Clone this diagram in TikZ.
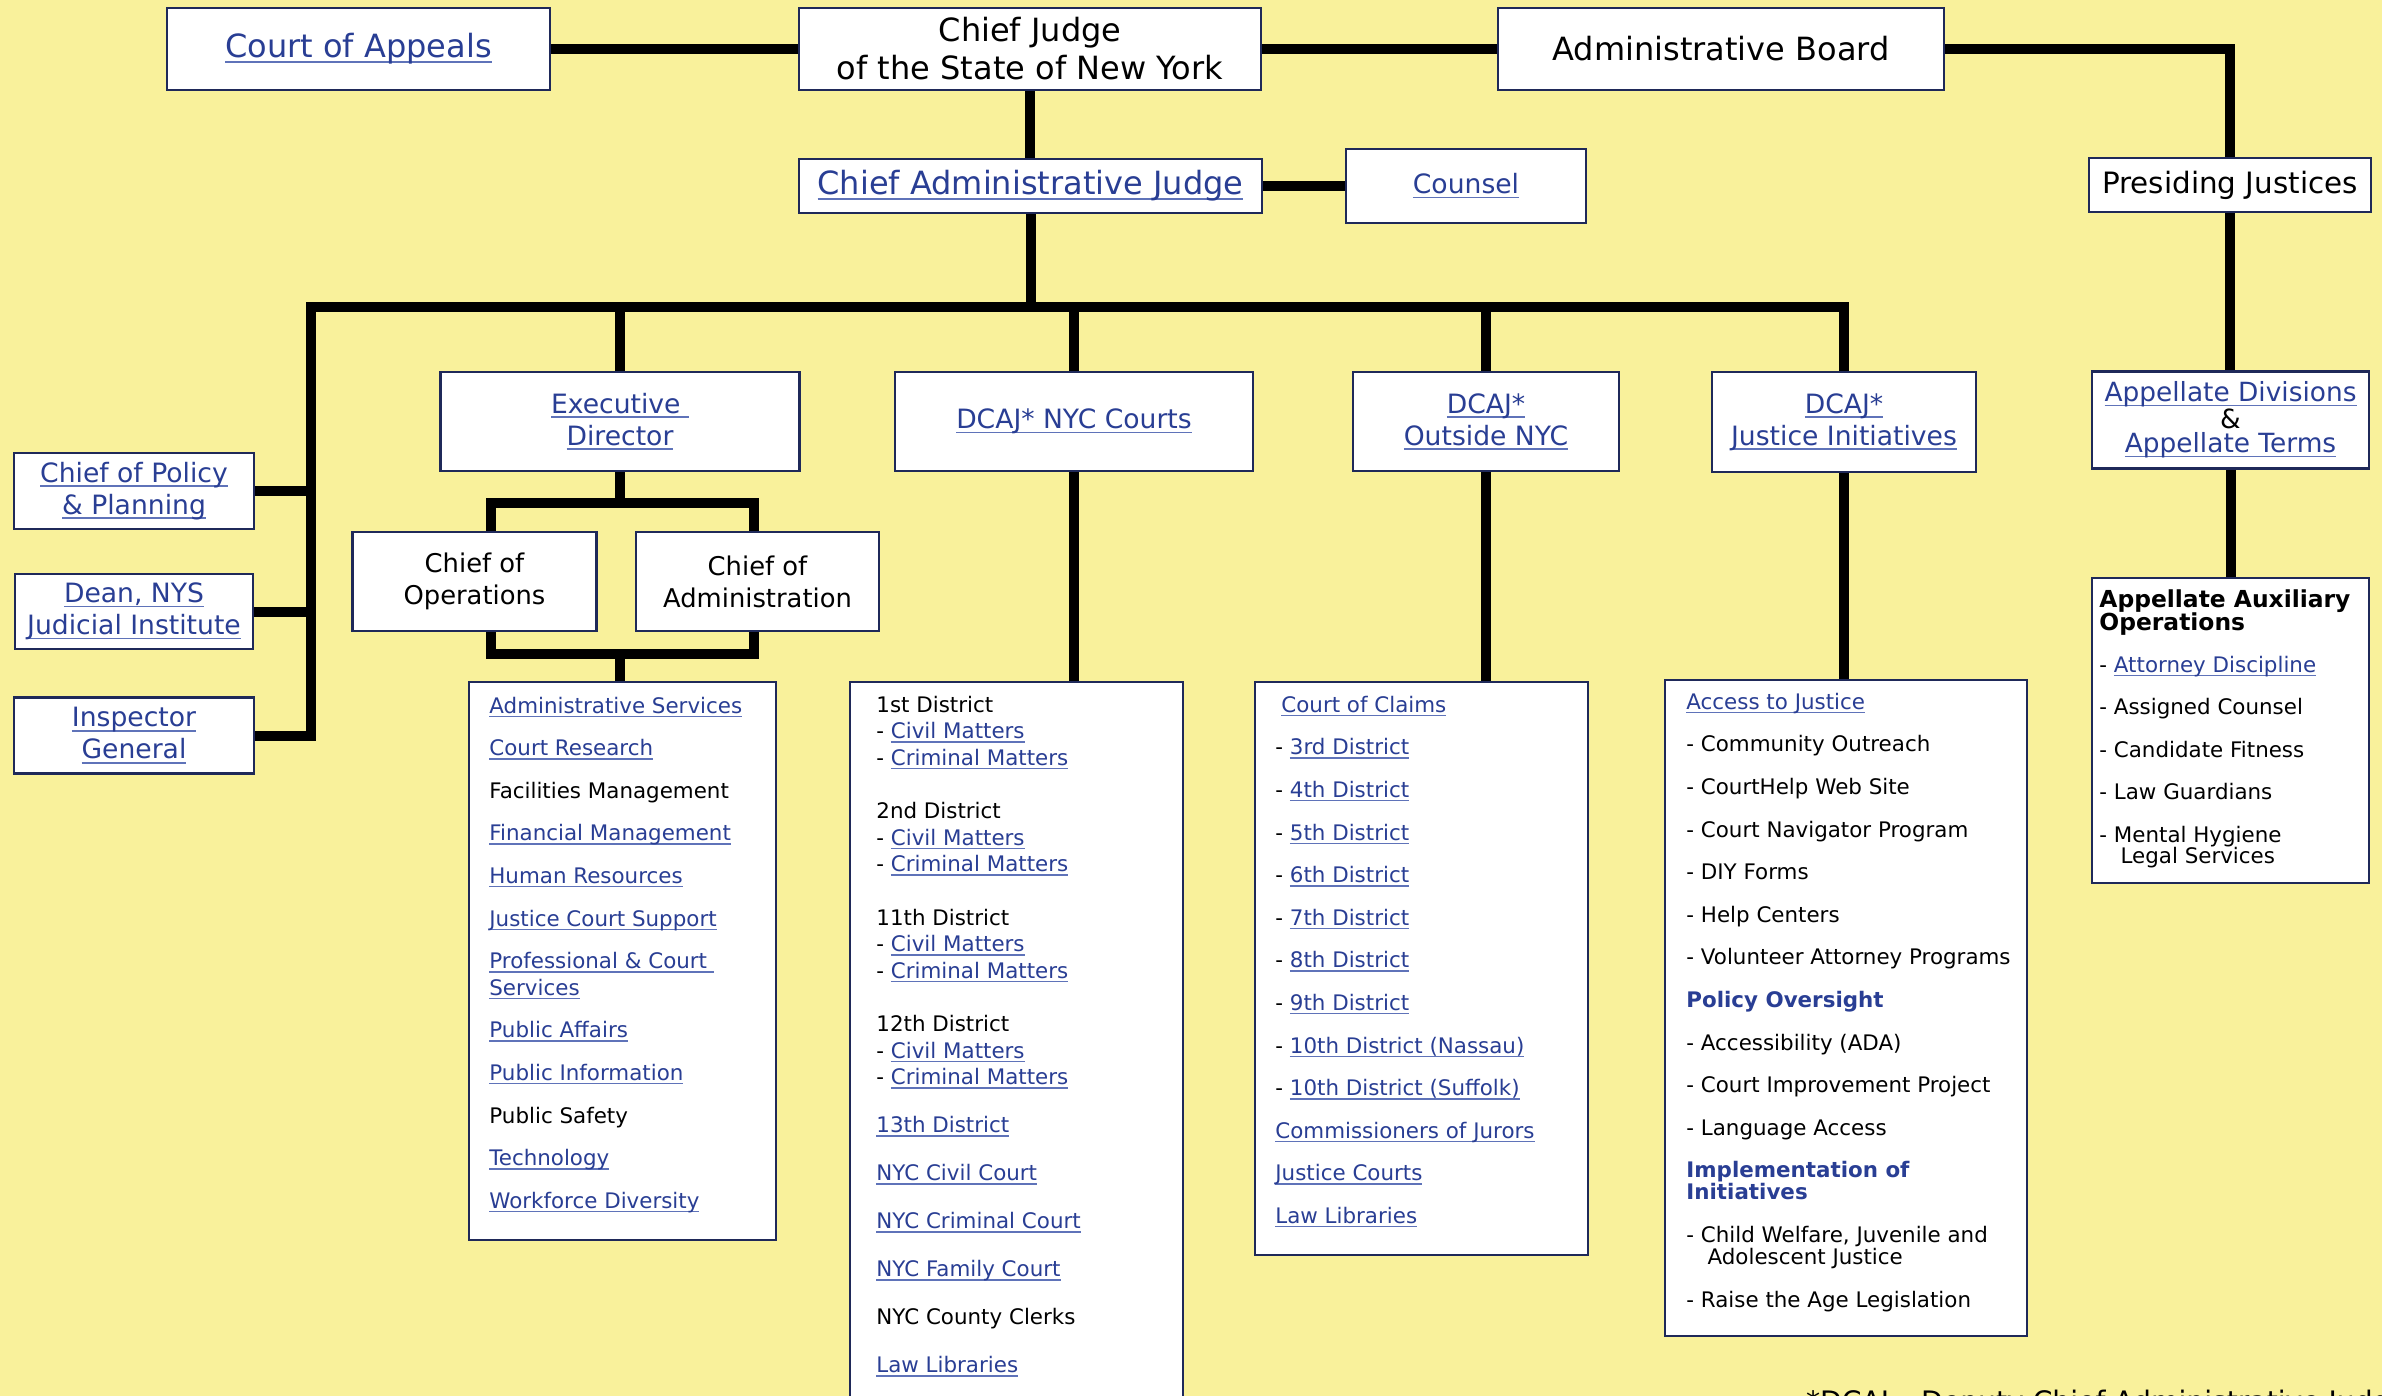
\documentclass[tikz,border=0pt]{standalone}
\usepackage{fontspec}
\setmainfont{DejaVu Sans}
\usetikzlibrary{positioning}
\usetikzlibrary{calc}

\definecolor{bgyellow}{RGB}{249,241,155}
\definecolor{boxnavy}{RGB}{31,41,89}
\definecolor{linkblue}{RGB}{41,62,148}
\definecolor{ulblue}{RGB}{95,115,185}

\newcommand\topfont{\fontsize{16}{19}\selectfont}
\newcommand\midfont{\fontsize{13.3}{16}\selectfont}
\newcommand\listfont{\fontsize{10.7}{13.3}\selectfont}
\newcommand\notefont{\fontsize{14.1}{17}\selectfont}
\newsavebox\lnkbox
\newcommand\lnk[1]{\sbox\lnkbox{\textcolor{linkblue}{#1}}%
  \rlap{\textcolor{ulblue}{\rule[-0.32ex]{\wd\lnkbox}{0.12ex}}}\usebox\lnkbox}
\newcommand\head[1]{\textcolor{linkblue}{\bfseries #1}}

\tikzset{box/.style={draw=boxnavy, line width=1.25pt, fill=white, inner sep=0pt, align=center}}
\tikzset{sz/.style 2 args={minimum width=#1*0.5pt, minimum height=#2*0.5pt}}
\tikzset{wire/.style={line width=5pt}}
\tikzset{items/.style={anchor=north west, inner sep=0pt, align=left, font={\listfont\lineskiplimit=-20pt}}}

\begin{document}
\begin{tikzpicture}[x=0.5pt, y=-0.5pt]
\clip (0,0) rectangle (2382,1396);
\fill[bgyellow] (0,0) rectangle (2382,1396);

% top of the chart
\node[box, sz={383}{82}, font=\topfont] (coa) at (358.5,49) {\lnk{Court of Appeals}};
\node[box, sz={462}{82}, font=\topfont] (cj) at (1030,49) {Chief Judge\\of the State of New York};
\node[box, sz={446}{82}, font=\topfont] (board) at (1721,49) {Administrative Board};
\node[box, sz={463}{54}, font=\topfont] (caj) at (1030.5,186) {\lnk{Chief Administrative Judge}};
\node[box, sz={240}{74}, font=\midfont] (counsel) at (1466,186) {\lnk{Counsel}};
\node[box, sz={282}{54}, font=\fontsize{14.7}{17}\selectfont] (pj) at (2230,185) {Presiding Justices};

% left column
\node[box, sz={240}{76}, font=\midfont] (policy) at (134,491) {\lnk{Chief of Policy}\\\lnk{\& Planning}};
\node[box, sz={238}{75}, font=\midfont] (dean) at (134,611.5) {\lnk{Dean, NYS}\\\lnk{Judicial Institute}};
\node[box, sz={240}{76}, font=\midfont] (ig) at (134,735.5) {\lnk{Inspector}\\\lnk{General}};

% deputies
\node[box, sz={359}{99}, font=\midfont] (ed) at (620,421.5) {\lnk{Executive\ }\\\lnk{Director}};
\node[box, sz={358}{99}, font=\midfont] (dnyc) at (1074,421.5) {\lnk{DCAJ* NYC Courts}};
\node[box, sz={266}{99}, font=\midfont] (dout) at (1486,421.5) {\lnk{DCAJ*}\\\lnk{Outside NYC}};
\node[box, sz={264}{100}, font=\midfont] (dji) at (1844,422) {\lnk{DCAJ*}\\\lnk{Justice Initiatives}};
\node[box, sz={277}{97}, font=\fontsize{13.2}{12}\selectfont] (appdiv) at (2230.5,420) {\lnk{Appellate Divisions}\\\&\\\lnk{Appellate Terms}};

\node[box, sz={244}{99}, font=\fontsize{12.9}{16}\selectfont] (cops) at (474.5,581.5) {Chief of\\Operations};
\node[box, sz={243}{99}, font=\fontsize{12.9}{16}\selectfont] (cadm) at (757.5,581.5) {Chief of\\Administration};

% list boxes
\node[box, sz={307}{558}] (adml) at (622.5,961) {};
\node[box, sz={333}{738}] (nycl) at (1016.5,1051) {};
\node[box, sz={333}{573}] (outl) at (1421.5,968.5) {};
\node[box, sz={362}{656}] (jil) at (1846,1008) {};
\node[box, sz={277}{305}] (auxl) at (2230.5,730.5) {};

\node[items] (admt) at (489,696.5) {%
\lnk{Administrative Services}\\[8pt]
\lnk{Court Research}\\[8pt]
Facilities Management\\[8pt]
\lnk{Financial Management}\\[8pt]
\lnk{Human Resources}\\[8pt]
\lnk{Justice Court Support}\\[8pt]
\lnk{Professional \& Court\ }\\
\lnk{Services}\\[8pt]
\lnk{Public Affairs}\\[8pt]
\lnk{Public Information}\\[8pt]
Public Safety\\[8pt]
\lnk{Technology}\\[8pt]
\lnk{Workforce Diversity}};

\node[items] (nyct) at (876,695.7) {%
1st District\\
- \lnk{Civil Matters}\\
- \lnk{Criminal Matters}\\[13.3pt]
2nd District\\
- \lnk{Civil Matters}\\
- \lnk{Criminal Matters}\\[13.3pt]
11th District\\
- \lnk{Civil Matters}\\
- \lnk{Criminal Matters}\\[13.3pt]
12th District\\
- \lnk{Civil Matters}\\
- \lnk{Criminal Matters}\\[10.7pt]
\lnk{13th District}\\[10.7pt]
\lnk{NYC Civil Court}\\[10.7pt]
\lnk{NYC Criminal Court}\\[10.7pt]
\lnk{NYC Family Court}\\[10.7pt]
NYC County Clerks\\[10.7pt]
\lnk{Law Libraries}};

\node[items] (outt) at (1275,695.7) {%
\hspace*{3pt}\lnk{Court of Claims}\\[8pt]
- \lnk{3rd District}\\[8pt]
- \lnk{4th District}\\[8pt]
- \lnk{5th District}\\[8pt]
- \lnk{6th District}\\[8pt]
- \lnk{7th District}\\[8pt]
- \lnk{8th District}\\[8pt]
- \lnk{9th District}\\[8pt]
- \lnk{10th District (Nassau)}\\[8pt]
- \lnk{10th District (Suffolk)}\\[8pt]
\lnk{Commissioners of Jurors}\\[8pt]
\lnk{Justice Courts}\\[8pt]
\lnk{Law Libraries}};

\node[items] (jit) at (1686,692.7) {%
\lnk{Access to Justice}\\[8pt]
- Community Outreach\\[8pt]
- CourtHelp Web Site\\[8pt]
- Court Navigator Program\\[8pt]
- DIY Forms\\[8pt]
- Help Centers\\[8pt]
- Volunteer Attorney Programs\\[8pt]
\head{Policy Oversight}\\[8pt]
- Accessibility (ADA)\\[8pt]
- Court Improvement Project\\[8pt]
- Language Access\\[8pt]
\head{Implementation of}\\[-2.3pt]
\head{Initiatives}\\[8pt]
- Child Welfare, Juvenile and\\[-2.3pt]
\hspace*{10.6pt}Adolescent Justice\\[8pt]
- Raise the Age Legislation};

\node[items] (auxt) at (2099,589) {%
{\fontsize{11.7}{13.3}\selectfont\bfseries Appellate Auxiliary}\\[-1.8pt]
{\fontsize{11.7}{13.3}\selectfont\bfseries Operations}\\[7.7pt]
- \lnk{Attorney Discipline}\\[8pt]
- Assigned Counsel\\[8pt]
- Candidate Fitness\\[8pt]
- Law Guardians\\[8pt]
- Mental Hygiene\\[-2.8pt]
\hspace*{10.6pt}Legal Services};

\node[anchor=base west, font=\notefont] (note) at (1799,1411) {*DCAJ – Deputy Chief Administrative Judge};

% connectors
\coordinate (busL) at (311,307);
\coordinate (busR) at (1844,307);
\coordinate (splitL) at (491,503);
\coordinate (splitR) at (754,503);
\coordinate (joinL) at (491,654);
\coordinate (joinR) at (754,654);

\draw[wire] (coa) -- (cj);
\draw[wire] (cj) -- (board);
\draw[wire] (board.east) -| (pj.north);
\draw[wire] (cj.south) -- (cj.south |- caj.north);
\draw[wire] (caj) -- (counsel);
\draw[wire] (pj.south) -- (pj.south |- appdiv.north);
\draw[wire] (appdiv.south) -- (appdiv.south |- auxl.north);

\draw[wire] (ig.east) -| (busL) -- (busR) -- (dji.north);
\draw[wire] (policy.east) -- (policy.east -| busL);
\draw[wire] (dean.east) -- (dean.east -| busL);
\draw[wire] (caj.south) -- (caj.south |- busL);
\draw[wire] (ed.north |- busL) -- (ed.north);
\draw[wire] (dnyc.north |- busL) -- (dnyc.north);
\draw[wire] (dout.north |- busL) -- (dout.north);

\draw[wire] (ed.south) -- (ed.south |- splitL);
\draw[wire] (splitL |- cops.north) -- (splitL) -- (splitR) -- (splitR |- cadm.north);
\draw[wire] (joinL |- cops.south) -- (joinL) -- (joinR) -- (joinR |- cadm.south);
\draw[wire] (ed.south |- joinL) -- (ed.south |- adml.north);

\draw[wire] (dnyc.south) -- (dnyc.south |- nycl.north);
\draw[wire] (dout.south) -- (dout.south |- outl.north);
\draw[wire] (dji.south) -- (dji.south |- jil.north);
\end{tikzpicture}
\end{document}
